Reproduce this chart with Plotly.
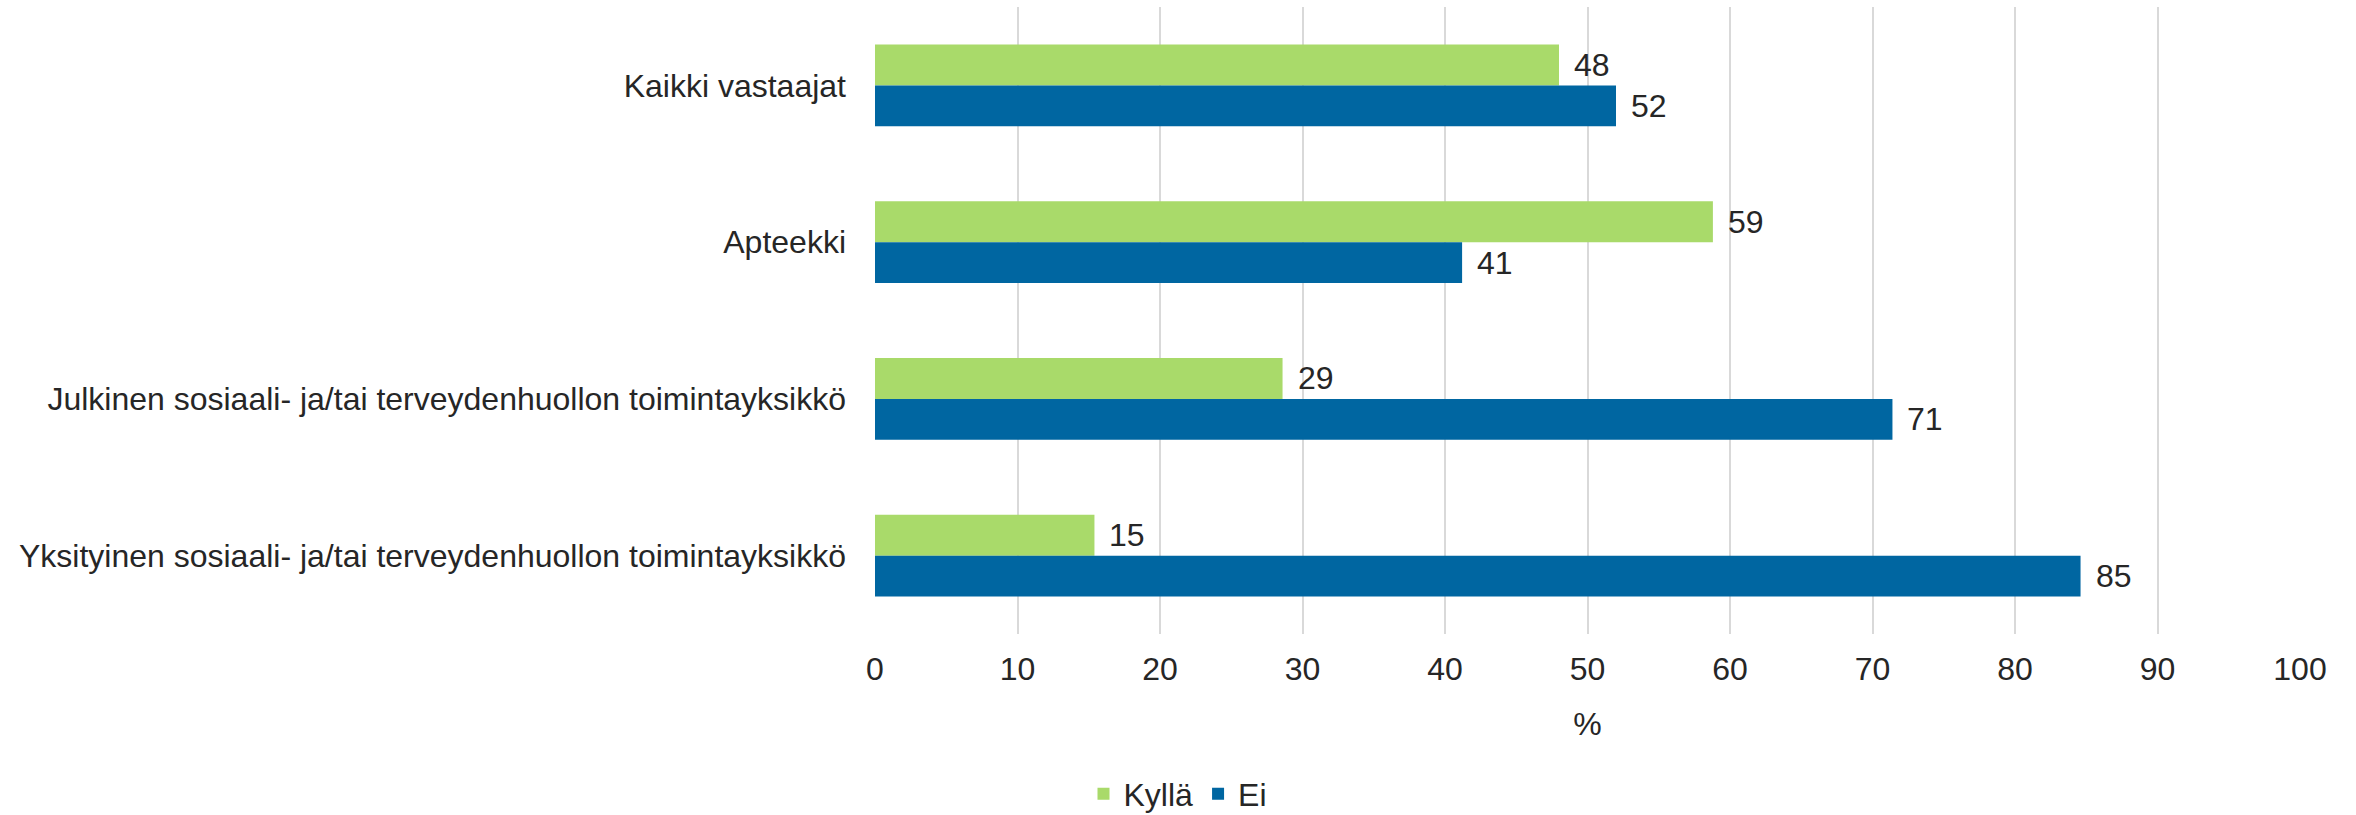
import plotly.graph_objects as go

categories = [
    "Kaikki vastaajat",
    "Apteekki",
    "Julkinen sosiaali- ja/tai terveydenhuollon toimintayksikkö",
    "Yksityinen sosiaali- ja/tai terveydenhuollon toimintayksikkö",
]
series_names = ["Kyllä", "Ei"]
kylla = [48.0, 58.8, 28.6, 15.4]
ei = [52.0, 41.2, 71.4, 84.6]
x_ticks = [0, 10, 20, 30, 40, 50, 60, 70, 80, 90, 100]

GREEN = "#A9DA6A"
BLUE = "#0066A1"
TEXT = "#262626"
FONT = "Liberation Sans, Arial, sans-serif"
FS = 32

fig = go.Figure()
for name, vals, col in [(series_names[0], kylla, GREEN), (series_names[1], ei, BLUE)]:
    fig.add_trace(go.Bar(
        name=name, y=categories, x=vals, orientation="h",
        marker=dict(color=col, line=dict(width=0)),
        hoverinfo="x+y",
    ))

annotations = []
for vals, shift in [(kylla, 20.5), (ei, -20.5)]:
    for c, v in zip(categories, vals):
        annotations.append(dict(
            x=v, y=c, xref="x", yref="y", text=f"{round(v):d}",
            showarrow=False, xanchor="left", yanchor="middle",
            xshift=13, yshift=shift,
            font=dict(family=FONT, size=FS, color=TEXT),
        ))

fig.update_layout(
    width=2356, height=815,
    barmode="group", bargap=0.477, bargroupgap=0,
    plot_bgcolor="white", paper_bgcolor="white",
    margin=dict(l=875, r=56, t=7, b=181, autoexpand=False),
    font=dict(family=FONT, size=FS, color=TEXT),
    annotations=annotations,
    showlegend=True,
    legend=dict(
        orientation="h", xref="container", x=0.5, xanchor="center",
        y=-0.2552, yanchor="middle",
        font=dict(family=FONT, size=FS, color=TEXT),
        itemwidth=30, tracegroupgap=0,
    ),
)
fig.update_xaxes(
    range=[0, 100], tickvals=x_ticks, ticktext=[str(t) for t in x_ticks],
    showgrid=True, gridcolor="#D9D9D9", gridwidth=1.5,
    zeroline=False, showline=False, ticks="",
    ticklabelstandoff=13,
    tickfont=dict(family=FONT, size=FS, color=TEXT),
    title=dict(text="%", standoff=26, font=dict(family=FONT, size=FS, color=TEXT)),
)
fig.update_yaxes(
    autorange="reversed", showgrid=False, zeroline=False, showline=False, ticks="",
    ticklabelstandoff=28,
    tickfont=dict(family=FONT, size=FS, color=TEXT),
)

fig.write_html(
    "out.html",
    config={"displayModeBar": False},
    post_script="document.body.style.margin='0px';document.body.style.overflow='hidden';",
)
